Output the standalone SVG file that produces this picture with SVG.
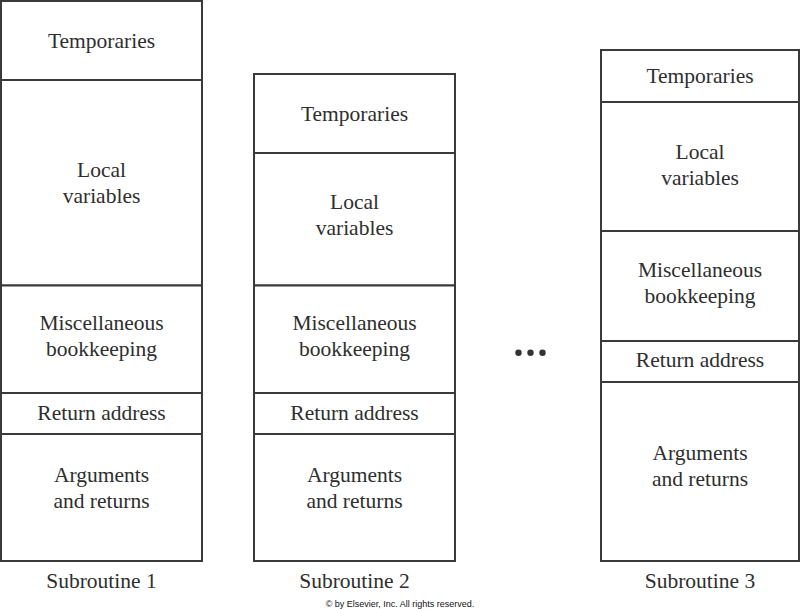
<svg xmlns="http://www.w3.org/2000/svg" width="800" height="609" viewBox="0 0 800 609">
<style>
.box{fill:#fff;stroke:#3a3a3a;stroke-width:2}
.t{font-family:"Liberation Serif","Times New Roman",serif;font-size:21.5px;fill:#2e2e2e;text-anchor:middle}
.c{font-family:"Liberation Sans",Arial,sans-serif;font-size:9px;fill:#111;text-anchor:middle}
.dot{fill:#333}
</style>
<rect width="800" height="609" fill="#fff"/>
<g id="subroutine1">
<g id="s1-temporaries"><rect class="box" x="1" y="1" width="201" height="79"/><text class="t" x="101.5" y="48">Temporaries</text></g>
<g id="s1-local"><rect class="box" x="1" y="80" width="201" height="205.5"/><text class="t" x="101.5" y="177">Local</text><text class="t" x="101.5" y="203">variables</text></g>
<g id="s1-misc"><rect class="box" x="1" y="285.5" width="201" height="107.5"/><text class="t" x="101.5" y="330">Miscellaneous</text><text class="t" x="101.5" y="356">bookkeeping</text></g>
<g id="s1-return"><rect class="box" x="1" y="393" width="201" height="41"/><text class="t" x="101.5" y="420">Return address</text></g>
<g id="s1-args"><rect class="box" x="1" y="434" width="201" height="127"/><text class="t" x="101.5" y="482">Arguments</text><text class="t" x="101.5" y="508">and returns</text></g>
<text class="t" x="101.5" y="588">Subroutine 1</text>
</g>
<g id="subroutine2">
<g id="s2-temporaries"><rect class="box" x="254" y="74" width="201" height="79"/><text class="t" x="354.5" y="121">Temporaries</text></g>
<g id="s2-local"><rect class="box" x="254" y="153" width="201" height="132.5"/><text class="t" x="354.5" y="209">Local</text><text class="t" x="354.5" y="235">variables</text></g>
<g id="s2-misc"><rect class="box" x="254" y="285.5" width="201" height="107.5"/><text class="t" x="354.5" y="330">Miscellaneous</text><text class="t" x="354.5" y="356">bookkeeping</text></g>
<g id="s2-return"><rect class="box" x="254" y="393" width="201" height="41"/><text class="t" x="354.5" y="420">Return address</text></g>
<g id="s2-args"><rect class="box" x="254" y="434" width="201" height="127"/><text class="t" x="354.5" y="482">Arguments</text><text class="t" x="354.5" y="508">and returns</text></g>
<text class="t" x="354.5" y="588">Subroutine 2</text>
</g>
<g id="ellipsis"><circle class="dot" cx="518.5" cy="352.7" r="3.2"/><circle class="dot" cx="530.5" cy="352.7" r="3.2"/><circle class="dot" cx="542.5" cy="352.7" r="3.2"/></g>
<g id="subroutine3">
<g id="s3-temporaries"><rect class="box" x="601" y="50" width="198" height="52"/><text class="t" x="700" y="83">Temporaries</text></g>
<g id="s3-local"><rect class="box" x="601" y="102" width="198" height="129"/><text class="t" x="700" y="159">Local</text><text class="t" x="700" y="185">variables</text></g>
<g id="s3-misc"><rect class="box" x="601" y="231" width="198" height="110"/><text class="t" x="700" y="277">Miscellaneous</text><text class="t" x="700" y="303">bookkeeping</text></g>
<g id="s3-return"><rect class="box" x="601" y="341" width="198" height="41"/><text class="t" x="700" y="367">Return address</text></g>
<g id="s3-args"><rect class="box" x="601" y="382" width="198" height="179"/><text class="t" x="700" y="460">Arguments</text><text class="t" x="700" y="486">and returns</text></g>
<text class="t" x="700" y="588">Subroutine 3</text>
</g>
<g id="connectors"></g>
<text class="c" x="400" y="607">© by Elsevier, Inc. All rights reserved.</text>
</svg>
